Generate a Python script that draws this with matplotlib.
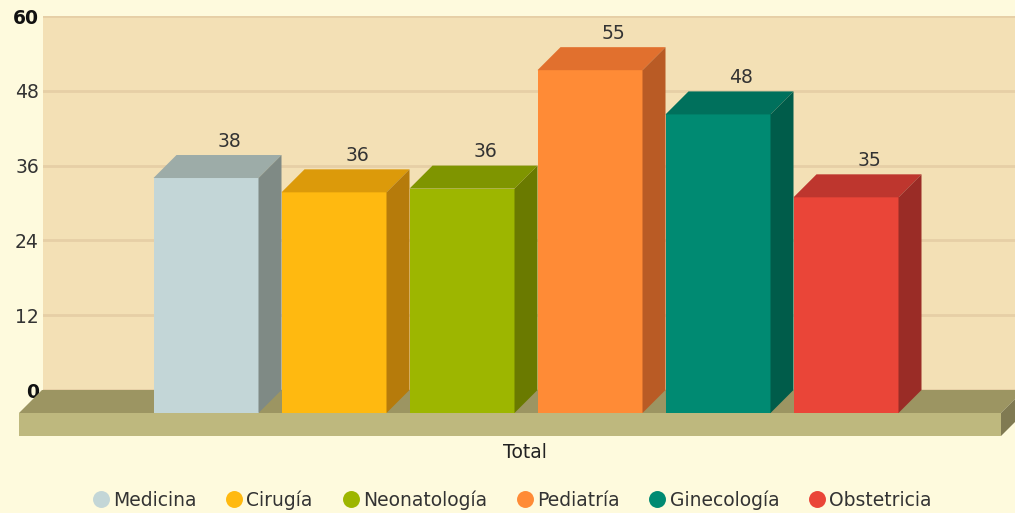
import matplotlib
matplotlib.use("Agg")
import matplotlib.pyplot as plt
from matplotlib.patches import Polygon, Rectangle
from matplotlib.lines import Line2D

categories = ["Medicina", "Cirugía", "Neonatología", "Pediatría", "Ginecología", "Obstetricia"]
values = [37.7, 35.4, 36.0, 55.0, 47.9, 34.6]
value_labels = ["38", "36", "36", "55", "48", "35"]
yticks = [0, 12, 24, 36, 48, 60]
front_colors = ["#C3D6D7", "#FFB910", "#9DB600", "#FF8B36", "#008A72", "#EA4538"]
top_colors = ["#9DACA8", "#DC9A0A", "#7F9500", "#E1702E", "#00705C", "#BE362E"]
side_colors = ["#7F8A85", "#B67B0B", "#6A7A00", "#B95B25", "#005C4A", "#9A2C26"]

W, H = 1015, 513
fig = plt.figure(figsize=(W / 100, H / 100), dpi=100)
fig.patch.set_facecolor("#FEFADD")

# axes = back wall (pixels x 43..1015, y 16..390)
ax_l, ax_r, ax_t, ax_b = 43, 1015, 16, 390
ax = fig.add_axes([ax_l / W, 1 - ax_b / H, (ax_r - ax_l) / W, (ax_b - ax_t) / H])
ax.set_facecolor("#F3E0B5")
ax.set_ylim(0, 60)
px_per_unit_y = (ax_b - ax_t) / 60.0
px_per_cat = 128.0
c0 = 229.0  # pixel x of first category back-face center
ax.set_xlim((ax_l - c0) / px_per_cat, (ax_r - c0) / px_per_cat)

depth_px = 23
ox = -depth_px / px_per_cat
oy = -depth_px / px_per_unit_y
bw = 105 / px_per_cat

ax.set_yticks(yticks)
ax.set_yticklabels([str(t) for t in yticks])
ax.tick_params(axis="y", length=0, pad=3, labelsize=13.5, labelcolor="#333333")
ax.tick_params(axis="x", length=0, labelbottom=False)
for lab in ax.get_yticklabels():
    if lab.get_text() in ("0", "60"):
        lab.set_fontweight("bold")
        lab.set_color("#111111")
for s in ax.spines.values():
    s.set_visible(False)
ax.grid(axis="y", color="#E6CFA6", linewidth=2)
ax.set_axisbelow(True)

# floor left / right in category units
fl = (19 - c0) / px_per_cat
fr = (1001 - c0) / px_per_cat
slab = 23 / px_per_unit_y

# floor top (parallelogram)
ax.add_patch(Polygon([(fl, oy), (fr, oy), (fr - ox, 0), (fl - ox, 0)],
                     closed=True, facecolor="#9C9562", edgecolor="none",
                     clip_on=False, zorder=3))
# slab front
ax.add_patch(Rectangle((fl, oy - slab), fr - fl, slab, facecolor="#BEB87E",
                       edgecolor="none", clip_on=False, zorder=3))
# slab right side
ax.add_patch(Polygon([(fr, oy), (fr - ox, 0), (fr - ox, -slab), (fr, oy - slab)],
                     closed=True, facecolor="#807A52", edgecolor="none",
                     clip_on=False, zorder=3))

xs = list(range(len(categories)))
ax.bar([x + ox for x in xs], values, width=bw, bottom=oy, color=front_colors,
       edgecolor="none", clip_on=False, zorder=5)
for x, v, lbl, tc, sc in zip(xs, values, value_labels, top_colors, side_colors):
    l, r = x - bw / 2, x + bw / 2
    ax.add_patch(Polygon([(l + ox, v + oy), (r + ox, v + oy), (r, v), (l, v)],
                         closed=True, facecolor=tc, edgecolor="none",
                         clip_on=False, zorder=5))
    ax.add_patch(Polygon([(r + ox, oy), (r, 0), (r, v), (r + ox, v + oy)],
                         closed=True, facecolor=sc, edgecolor="none",
                         clip_on=False, zorder=5))
    ax.annotate(lbl, (x, v), xytext=(0, 3), textcoords="offset points",
                ha="center", va="bottom", fontsize=13.5, color="#333333",
                annotation_clip=False, zorder=6)

ax.set_xlabel("Total", fontsize=13.5, color="#222222")
ax.xaxis.set_label_coords((525 - ax_l) / (ax_r - ax_l), (ax_b - 452) / (ax_b - ax_t))
ax.xaxis.label.set_va("center")

handles = [Line2D([0], [0], marker="o", linestyle="none", markersize=12.2,
                  markerfacecolor=c, markeredgecolor="none") for c in front_colors]
fig.legend(handles, categories, loc="center", bbox_to_anchor=(512 / W, 1 - 500 / H),
           ncol=6, frameon=False, fontsize=13.5, handlelength=0.9,
           handletextpad=0.2, columnspacing=1.57, labelcolor="#333333",
           borderaxespad=0, borderpad=0)

fig.savefig("out.png", dpi=100, facecolor=fig.get_facecolor())
